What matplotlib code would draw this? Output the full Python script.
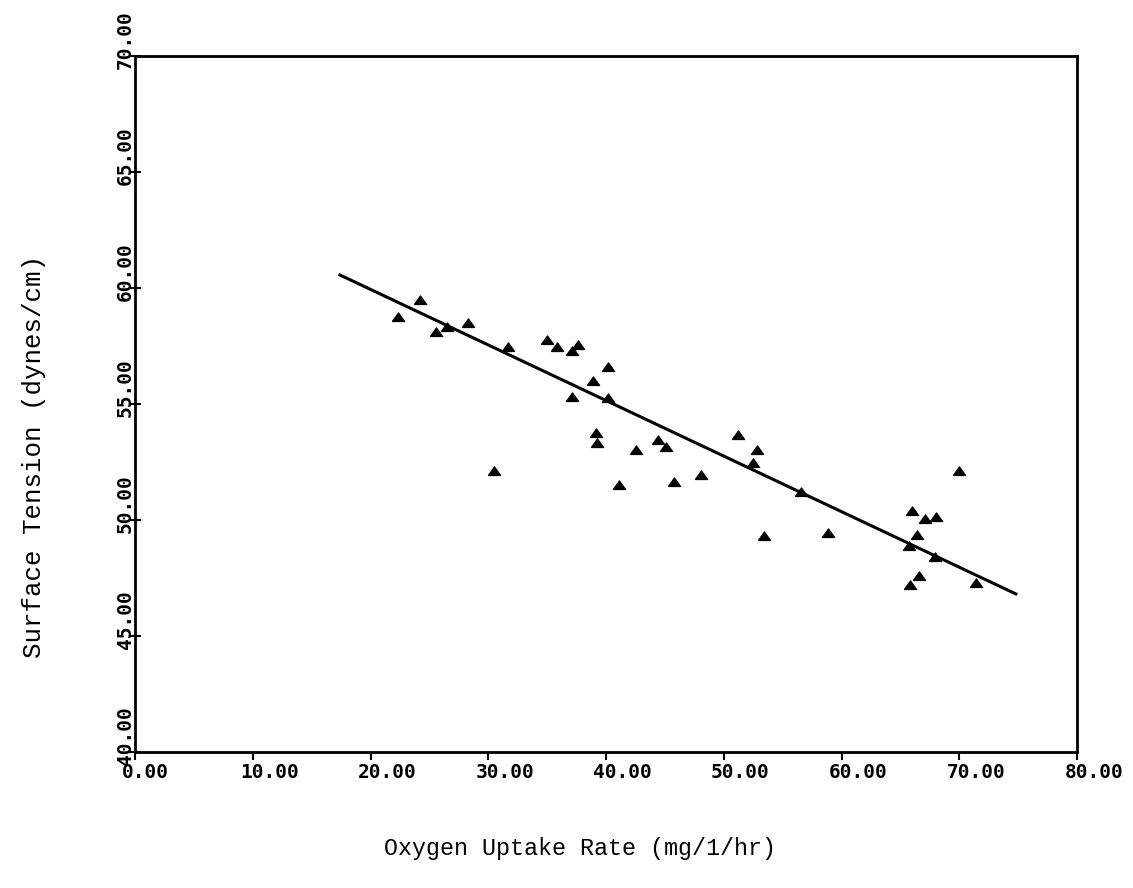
import numpy as np
import matplotlib
matplotlib.use("Agg")
import matplotlib.pyplot as plt
from matplotlib.transforms import ScaledTranslation

# ---- data ----
oxygen_uptake = [22.3, 24.2, 25.6, 26.5, 28.3, 31.65, 30.5, 35.0, 35.85, 37.6,
                 37.1, 40.2, 38.9, 37.15, 40.2, 39.15, 39.25, 42.55, 41.1, 44.45,
                 45.1, 45.8, 48.1, 51.2, 52.85, 52.5, 53.4, 56.55, 58.85, 70.0,
                 65.95, 67.1, 68.0, 66.4, 65.7, 67.9, 66.6, 65.8, 71.4]
surface_tension = [58.75, 59.5, 58.1, 58.3, 58.5, 57.45, 52.1, 57.75, 57.45, 57.55,
                   57.3, 56.6, 56.0, 55.3, 55.25, 53.75, 53.3, 53.0, 51.5, 53.45,
                   53.15, 51.65, 51.95, 53.65, 53.0, 52.45, 49.3, 51.2, 49.45, 52.1,
                   50.4, 50.05, 50.15, 49.35, 48.9, 48.4, 47.6, 47.2, 47.3]
fit_slope = -0.2395
fit_intercept = 64.73
fit_range = [17.4, 74.8]

x_ticks = [0, 10, 20, 30, 40, 50, 60, 70, 80]
y_ticks = [40, 45, 50, 55, 60, 65, 70]
x_title = "Oxygen Uptake Rate (mg/1/hr)"
y_title = "Surface Tension (dynes/cm)"

W, H = 1133, 888
fig = plt.figure(figsize=(W / 100, H / 100), dpi=100)
ax = fig.add_axes([135 / W, 1 - 752 / H, (1077 - 135) / W, (752 - 56) / H])

tri = [(-1.0, -0.65), (1.0, -0.65), (0.0, 0.75), (-1.0, -0.65)]
ax.plot(oxygen_uptake, surface_tension, linestyle="none", marker=tri,
        markersize=9, color="black", markeredgewidth=0.8)

fx = np.array(fit_range)
ax.plot(fx, fit_intercept + fit_slope * fx, color="black", linewidth=2.2)

ax.set_xlim(0, 80)
ax.set_ylim(40, 70)
for s in ax.spines.values():
    s.set_linewidth(2.0)

tick_font = dict(family="DejaVu Sans Mono", size=14, weight="bold")
ax.set_xticks(x_ticks)
ax.set_yticks(y_ticks)
ax.set_xticklabels([f"{v:.2f}" for v in x_ticks], fontdict=tick_font, ha="left")
ax.set_yticklabels([f"{v:.2f}" for v in y_ticks], fontdict=tick_font,
                   rotation=90, va="bottom")
ax.tick_params(axis="x", direction="out", length=6, width=1.5, pad=2)
ax.tick_params(axis="y", direction="inout", length=8, width=1.5, pad=-4)

charw = 11.7 / 100  # inches per character
for v, lab in zip(x_ticks, ax.get_xticklabels()):
    ndig = max(len(str(int(v))) - 1, 1)
    dx = -ndig * charw - 0.01
    lab.set_transform(lab.get_transform() + ScaledTranslation(dx, 0, fig.dpi_scale_trans))
for v, lab in zip(y_ticks, ax.get_yticklabels()):
    ndig = len(str(int(v))) - 1
    dy = -ndig * charw - 0.01
    lab.set_transform(lab.get_transform() + ScaledTranslation(0, dy, fig.dpi_scale_trans))

fig.text(580 / W, 1 - 848 / H, x_title, ha="center", va="center",
         family="Liberation Mono", size=16.8)
fig.text(34 / W, 1 - 457 / H, y_title, ha="center", va="center", rotation=90,
         family="Liberation Mono", size=18.6)

fig.savefig("out.png", dpi=100, facecolor="white")
